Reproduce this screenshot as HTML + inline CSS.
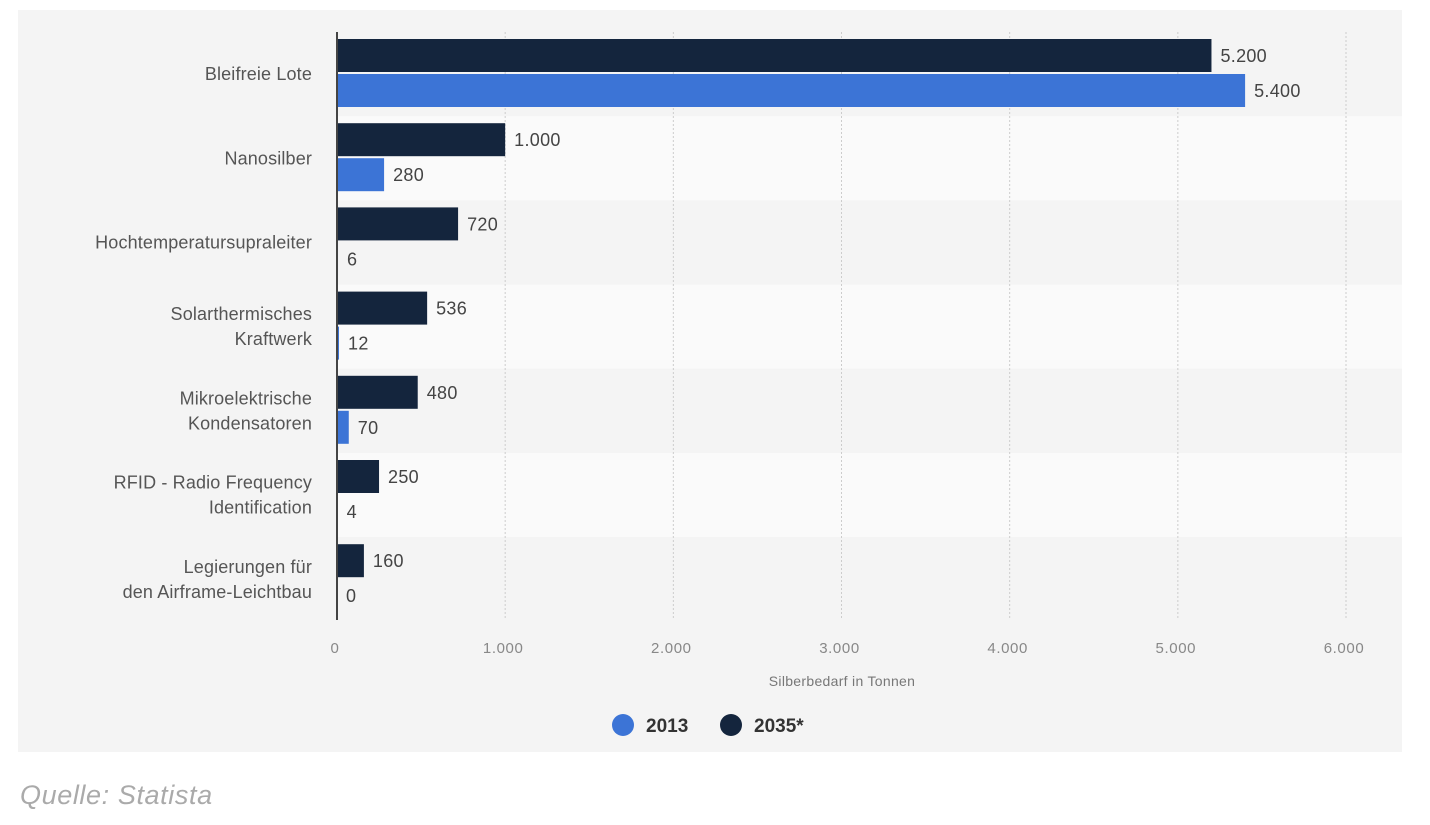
<!DOCTYPE html>
<html><head><meta charset="utf-8"><style>
body{margin:0;background:#fff;width:1430px;height:820px;overflow:hidden;font-family:"Liberation Sans",sans-serif}
</style></head><body>
<svg width="1430" height="820" xmlns="http://www.w3.org/2000/svg">
<rect x="18" y="10" width="1384" height="742" fill="#f4f4f4"/>
<g id="bands"></g><g id="grid"></g><g id="bars"></g><g id="labels"></g>
<line x1="337" y1="32" x2="337" y2="620" stroke="#444" stroke-width="2"/>
<text x="842" y="686" text-anchor="middle" font-size="14" letter-spacing="0.3" fill="#777">Silberbedarf in Tonnen</text>
<g><circle cx="623" cy="725" r="11" fill="#3c74d6"/><text x="646" y="732" font-size="19" font-weight="bold" fill="#333">2013</text></g>
<g><circle cx="731" cy="725" r="11" fill="#14253d"/><text x="754" y="732" font-size="19" font-weight="bold" fill="#333">2035*</text></g>
<text x="20" y="804" font-size="27" font-style="italic" letter-spacing="0.6" fill="#aaa">Quelle: Statista</text>
</svg>
<script>
const categories=[["Bleifreie Lote"],["Nanosilber"],["Hochtemperatursupraleiter"],["Solarthermisches","Kraftwerk"],["Mikroelektrische","Kondensatoren"],["RFID - Radio Frequency","Identification"],["Legierungen für","den Airframe-Leichtbau"]];
const values2035=[5200,1000,720,536,480,250,160];
const values2013=[5400,280,6,12,70,4,0];
const ticks=[0,1000,2000,3000,4000,5000,6000];
const NS="http://www.w3.org/2000/svg";
const x0=337,x1=1346,xmax=6000,top0=32,bandH=84.2;
const X=v=>x0+(x1-x0)*v/xmax;
const fmt=v=>v.toLocaleString("de-DE");
function mk(t,a,p){const e=document.createElementNS(NS,t);for(const k in a)e.setAttribute(k,a[k]);p.appendChild(e);return e;}
const gB=document.getElementById("bands"),gG=document.getElementById("grid"),gR=document.getElementById("bars"),gL=document.getElementById("labels");
categories.forEach((c,i)=>{
 const y=top0+i*bandH;
 const b=mk("rect",{x:338,y:y,width:1064,height:bandH,fill:i%2?"#fafafa":"#f4f4f4"},gB);
 
 
 const t=mk("text",{x:312,"text-anchor":"end","font-size":"18","letter-spacing":"0.15",fill:"#555"},gL);
 
 
 const cy=y+bandH/2+6;
 c.forEach((line,j)=>{const ts=mk("tspan",{x:312,y:cy+(j-(c.length-1)/2)*25},t);ts.textContent=line;});
 [[values2035[i],"#14253d",7],[values2013[i],"#3c74d6",42]].forEach(([v,col,off],k)=>{
  const by=y+off;
  const r=mk("rect",{x:x0,y:by,width:Math.max(0,X(v)-x0),height:33,fill:col},gR);
  
  
  const l=mk("text",{x:X(v)+9,y:by+23,"font-size":"18","letter-spacing":"0.3",fill:"#444"},gL);
  
  
  l.textContent=fmt(v);
 });
});
ticks.forEach(v=>{
 if(v>0){const g=mk("line",{x1:X(v),x2:X(v),y1:top0,y2:619,stroke:"#ccc","stroke-dasharray":"2,2"},gG);
 
 }
 const t=mk("text",{x:X(v)-2,y:653,"text-anchor":"middle","font-size":"15","letter-spacing":"0.6",fill:"#888"},gL);
 
 
 t.textContent=fmt(v);
});
</script>
</body></html>
